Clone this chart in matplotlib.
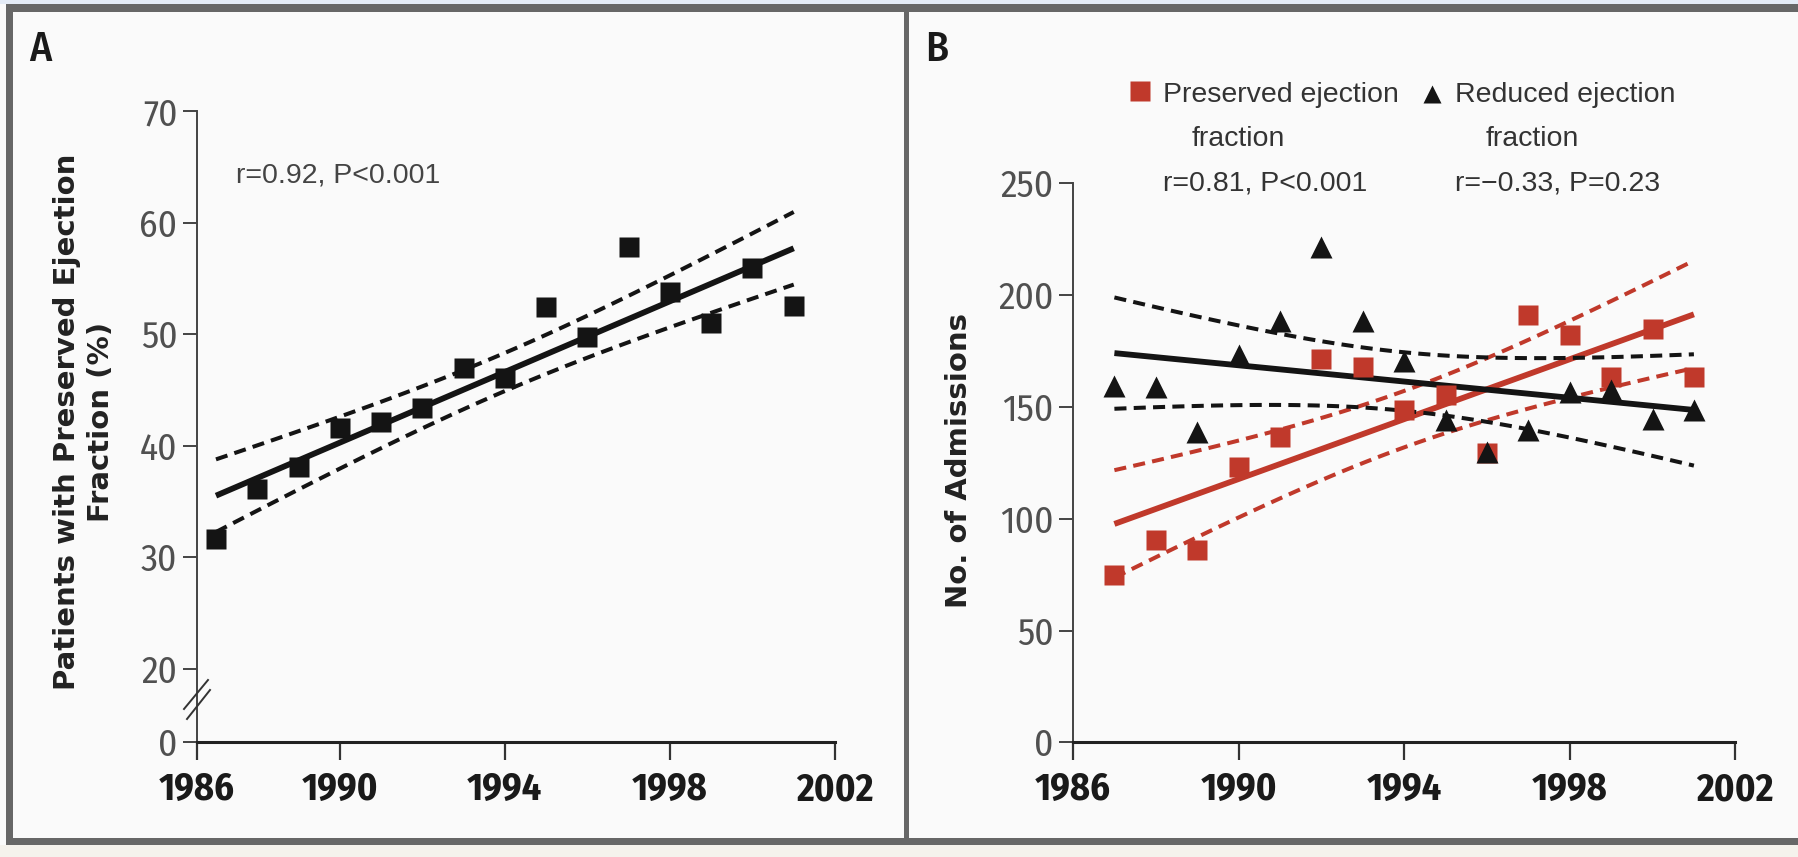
import numpy as np
import matplotlib
matplotlib.use("Agg")
import matplotlib.pyplot as plt
from matplotlib import font_manager as fm
from matplotlib.patches import Rectangle
from matplotlib.lines import Line2D

# data
years = [1987, 1988, 1989, 1990, 1991, 1992, 1993, 1994,
         1995, 1996, 1997, 1998, 1999, 2000, 2001]
preserved_pct = [31.6, 36.1, 38.1, 41.6, 42.1, 43.4, 47.0, 46.1,
                 52.4, 49.7, 57.8, 53.8, 51.0, 55.9, 52.5]
preserved_adm = [74.8, 90.5, 86.2, 123.1, 136.5, 171.2, 167.7, 148.5,
                 155.5, 129.4, 190.9, 182.2, 163.2, 184.8, 163.4]
reduced_adm = [159.4, 159.0, 138.8, 173.2, 188.4, 221.5, 188.4, 170.6,
               144.0, 129.8, 139.7, 156.7, 157.5, 144.6, 148.6]

x_ticks_a = [1986.54, 1990, 1994, 1998, 2002]
y_ticks_a = [13.44, 20, 30, 40, 50, 60, 70]
y_labels_a = ["0", "20", "30", "40", "50", "60", "70"]
x_ticks_b = [1986, 1990, 1994, 1998, 2002]
y_ticks_b = [0, 50, 100, 150, 200, 250]
x_labels = ["1986", "1990", "1994", "1998", "2002"]

T_CRIT = 2.160  # t(0.975, df=13)

RED = "#c0392b"
BLACK = "#141414"
W, H = 1798, 857


def pick_font(cands):
    for name in cands:
        try:
            fm.findfont(fm.FontProperties(family=name), fallback_to_default=False)
            return name
        except ValueError:
            continue
    return "DejaVu Sans"


NARROW = [pick_font(["Fira Sans Condensed", "PT Sans Narrow", "Asap Condensed",
                     "Barlow Semi Condensed", "Archivo Narrow"]), "DejaVu Sans"]
REG = ["Liberation Sans", "DejaVu Sans"]


def fp(x, y):
    return (x / W, 1 - y / H)


def rect(fig, x0, y0, x1, y1, color):
    fig.add_artist(Rectangle(fp(x0, y1), (x1 - x0) / W, (y1 - y0) / H,
                             transform=fig.transFigure, facecolor=color,
                             edgecolor="none", zorder=0))


def fit_band(x, y):
    x = np.asarray(x, float)
    y = np.asarray(y, float)
    slope, intercept = np.polyfit(x, y, 1)
    xs = np.linspace(x.min(), x.max(), 100)
    fit = intercept + slope * xs
    resid = y - (intercept + slope * x)
    n = len(x)
    s = np.sqrt(np.sum(resid ** 2) / (n - 2))
    se = s * np.sqrt(1 / n + (xs - x.mean()) ** 2 / np.sum((x - x.mean()) ** 2))
    return xs, fit, fit - T_CRIT * se, fit + T_CRIT * se


def style_axes(ax):
    ax.set_facecolor("none")
    for side in ("top", "right"):
        ax.spines[side].set_visible(False)
    ax.spines["left"].set_linewidth(1.4)
    ax.spines["left"].set_color("#444444")
    ax.spines["bottom"].set_linewidth(2.2)
    ax.spines["bottom"].set_color("#222222")
    ax.tick_params(axis="y", direction="out", length=10, width=1.4,
                   color="#444444", pad=4, labelsize=27, labelcolor="#505050")
    ax.tick_params(axis="x", direction="out", length=13, width=1.6,
                   color="#333333", pad=8, labelsize=27.5, labelcolor="#1a1a1a")
    for lbl in ax.get_yticklabels():
        lbl.set_fontfamily(NARROW)
        lbl.set_fontweight("normal")
    for lbl in ax.get_xticklabels():
        lbl.set_fontfamily(NARROW)
        lbl.set_fontweight("bold")


def draw_fit(ax, x, y, color):
    xs, fit, lo, hi = fit_band(x, y)
    ax.plot(xs, fit, color=color, lw=4.2, solid_capstyle="butt", zorder=2)
    for band in (lo, hi):
        ax.plot(xs, band, color=color, lw=2.9, ls=(0, (3.0, 1.8)), zorder=2)


fig = plt.figure(figsize=(W / 100, H / 100), dpi=100, facecolor="#fafafa")

# frame around the two panels
rect(fig, 0, 0, W, 4, "#e4ebf6")
rect(fig, 6, 4, W, 12, "#676767")
rect(fig, 6, 4, 13, 845, "#676767")
rect(fig, 904, 4, 909, 845, "#676767")
rect(fig, 6, 838, W, 845, "#676767")
rect(fig, 0, 845, W, H, "#f5f2ec")

# ---- panel A ----
axA = fig.add_axes([197 / W, 1 - 742 / H, (835 - 197) / W, (742 - 111) / H])
draw_fit(axA, years, preserved_pct, BLACK)
axA.plot(years, preserved_pct, ls="none", marker="s", ms=14, color=BLACK,
         mec="none", zorder=3)
axA.set_xlim(x_ticks_a[0], 2002)
axA.set_ylim(y_ticks_a[0], 70)
axA.set_xticks(x_ticks_a)
axA.set_xticklabels(x_labels)
axA.set_yticks(y_ticks_a)
axA.set_yticklabels(y_labels_a)
style_axes(axA)

# axis break marks
for (x0, y0, x1, y1) in [(184, 709, 208, 680), (187, 719, 210, 690)]:
    fig.add_artist(Line2D([x0 / W, x1 / W], [1 - y0 / H, 1 - y1 / H],
                          transform=fig.transFigure, color="#333333", lw=1.4))

fig.text(*fp(40, 50), "A", fontsize=30, family=NARROW, fontweight="medium",
         color="#1a1a1a", ha="center", va="center")
fig.text(*fp(84, 422), "Patients with Preserved Ejection\nFraction (%)",
         rotation=90, ha="center", va="center", multialignment="center",
         fontsize=21, fontweight="bold", family="DejaVu Sans",
         color="#222222", linespacing=1.25)
fig.text(*fp(236, 183), "r=0.92, P<0.001", fontsize=20.5, family=REG,
         color="#444444", ha="left", va="baseline")

# ---- panel B ----
axB = fig.add_axes([1073 / W, 1 - 742.3 / H, (1735.3 - 1073) / W,
                    (742.3 - 183.3) / H])
draw_fit(axB, years, preserved_adm, RED)
draw_fit(axB, years, reduced_adm, BLACK)
axB.plot(years, preserved_adm, ls="none", marker="s", ms=14, color=RED,
         mec="none", zorder=3)
axB.plot(years, reduced_adm, ls="none", marker="^", ms=16, color=BLACK,
         mec="none", zorder=4)
axB.set_xlim(1986, 2002)
axB.set_ylim(0, 250)
axB.set_xticks(x_ticks_b)
axB.set_xticklabels(x_labels)
axB.set_yticks(y_ticks_b)
axB.set_yticklabels([str(v) for v in y_ticks_b])
style_axes(axB)

fig.text(*fp(937, 50), "B", fontsize=30, family=NARROW, fontweight="medium",
         color="#1a1a1a", ha="center", va="center")
fig.text(*fp(959, 461), "No. of Admissions", rotation=90, ha="center",
         va="center", fontsize=21, fontweight="bold", family="DejaVu Sans",
         color="#222222")

# legend, drawn by hand
fig.add_artist(Line2D([1140 / W], [1 - 91 / H], transform=fig.transFigure,
                      marker="s", ms=14, color=RED, mec="none", ls="none"))
fig.add_artist(Line2D([1432 / W], [1 - 94 / H], transform=fig.transFigure,
                      marker="^", ms=13, color=BLACK, mec="none", ls="none"))
legend_text = [
    (1163, 102, "Preserved ejection"),
    (1192, 146, "fraction"),
    (1163, 191, "r=0.81, P<0.001"),
    (1455, 102, "Reduced ejection"),
    (1486, 146, "fraction"),
    (1455, 191, "r=\u22120.33, P=0.23"),
]
for x, y, s in legend_text:
    fig.text(*fp(x, y), s, fontsize=20.5, family=REG, color="#333333",
             ha="left", va="baseline")

fig.savefig("out.png", dpi=100, facecolor=fig.get_facecolor())
